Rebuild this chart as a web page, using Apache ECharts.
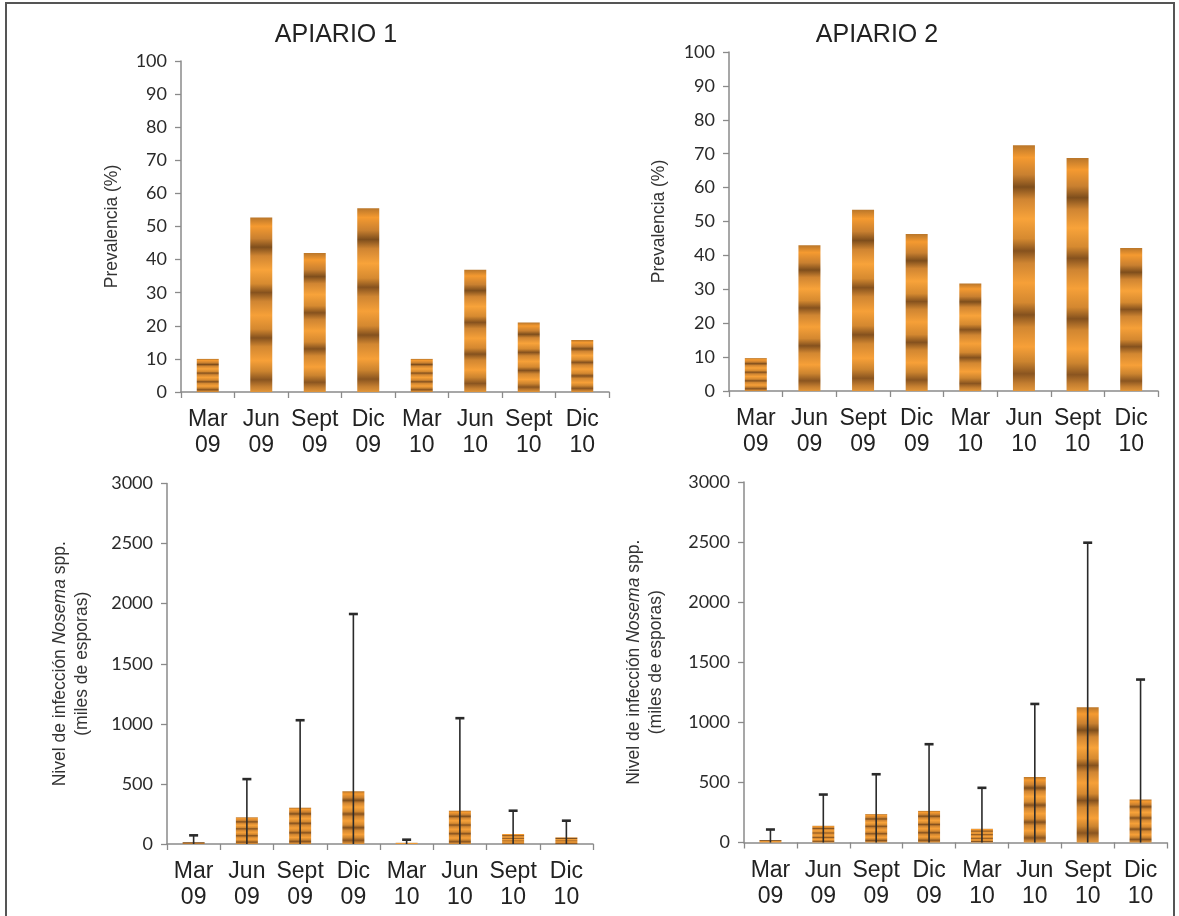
<!DOCTYPE html>
<html>
<head>
<meta charset="utf-8">
<script src="https://cdn.jsdelivr.net/npm/echarts@6/dist/echarts.min.js"></script>
<style>
html,body{margin:0;padding:0;background:#fff;}
#c{width:1179px;height:916px;}
</style>
</head>
<body>
<div id="c"></div>
<script>
// ---- data ----
const categories = ['Mar\n09','Jun\n09','Sept\n09','Dic\n09','Mar\n10','Jun\n10','Sept\n10','Dic\n10'];
const titles = ['APIARIO 1', 'APIARIO 2'];
const prevalencia1 = [10, 52.7, 42.0, 55.5, 10, 36.9, 21.0, 15.7];
const prevalencia2 = [9.7, 43.0, 53.5, 46.3, 31.7, 72.5, 68.7, 42.2];
const nivel1 = [15, 222, 302, 438, 10, 277, 83, 55];
const nivel1Upper = [72, 540, 1030, 1914, 36, 1047, 277, 194];
const nivel2 = [20, 139, 236, 263, 114, 546, 1126, 358];
const nivel2Upper = [108, 399, 568, 818, 455, 1153, 2495, 1356];

// ---- styles ----
const barFill = {
  type: 'linear', x: 0, y: 0, x2: 0, y2: 1,
  colorStops: [
    {offset: 0.00, color: '#B9762A'},
    {offset: 0.05, color: '#F59A30'},
    {offset: 0.12, color: '#C98030'},
    {offset: 0.17, color: '#7E4E1C'},
    {offset: 0.22, color: '#D08532'},
    {offset: 0.30, color: '#F8A33A'},
    {offset: 0.38, color: '#D68A30'},
    {offset: 0.43, color: '#86521E'},
    {offset: 0.48, color: '#CF8532'},
    {offset: 0.56, color: '#F6A038'},
    {offset: 0.64, color: '#D48830'},
    {offset: 0.69, color: '#84511E'},
    {offset: 0.74, color: '#D28731'},
    {offset: 0.82, color: '#F7A038'},
    {offset: 0.88, color: '#CC842F'},
    {offset: 0.93, color: '#8A5520'},
    {offset: 0.97, color: '#C47E30'},
    {offset: 1.00, color: '#E2963A'}
  ]
};
const axisColor = '#8a8a8a';
const sansX = 'Liberation Sans, Arial, sans-serif';
const sansY = 'Lato, Open Sans, sans-serif';

function xAx(gi) {
  return {
    type: 'category', gridIndex: gi, data: categories,
    axisLine: {lineStyle: {color: axisColor, width: 1.5}},
    axisTick: {show: true, length: 6, lineStyle: {color: axisColor, width: 1.3}},
    axisLabel: {color: '#222', fontFamily: sansX, fontSize: 23, lineHeight: 26, margin: 15, interval: 0}
  };
}
function yAx(gi, max, interval, name, gap) {
  return {
    type: 'value', gridIndex: gi, min: 0, max: max, interval: interval,
    name: name, nameLocation: 'middle', nameGap: gap,
    nameTextStyle: {
      color: '#333', fontFamily: sansX, fontSize: 17.5, lineHeight: 22, align: 'center',
      rich: {
        n: {color: '#333', fontFamily: sansX, fontSize: 17.5, lineHeight: 22},
        i: {color: '#333', fontFamily: sansX, fontSize: 17.5, lineHeight: 22, fontStyle: 'italic'}
      }
    },
    axisLine: {show: true, lineStyle: {color: axisColor, width: 1.5}},
    axisTick: {show: true, length: 6, lineStyle: {color: axisColor, width: 1.3}},
    splitLine: {show: false},
    axisLabel: {color: '#2a2a2a', fontFamily: sansY, fontSize: 18, margin: 14,
                formatter: function (v) { return String(v); }}
  };
}
function bars(idx, data) {
  return {
    type: 'bar', xAxisIndex: idx, yAxisIndex: idx, data: data,
    barWidth: 22, itemStyle: {color: barFill}, z: 2
  };
}
function errs(idx, upper) {
  return {
    type: 'custom', xAxisIndex: idx, yAxisIndex: idx, z: 5,
    data: upper.map((v, i) => [i, v]),
    encode: {x: 0, y: 1},
    renderItem: function (params, api) {
      const top = api.coord([api.value(0), api.value(1)]);
      const base = api.coord([api.value(0), 0]);
      const half = 4.5;
      return {
        type: 'group',
        children: [
          {type: 'line', shape: {x1: top[0], y1: base[1], x2: top[0], y2: top[1]},
           style: {stroke: '#2a2a2a', lineWidth: 1.6}},
          {type: 'line', shape: {x1: top[0] - half, y1: top[1], x2: top[0] + half, y2: top[1]},
           style: {stroke: '#2a2a2a', lineWidth: 2.6}}
        ]
      };
    }
  };
}

const nivelName = '{n|Nivel de infección }{i|Nosema}{n| spp.}\n{n|(miles de esporas)}';

const chart = echarts.init(document.getElementById('c'), null, {renderer: 'canvas'});
chart.setOption({
  backgroundColor: '#fff',
  animation: false,
  title: [
    {text: titles[0], left: 331, top: 18, textAlign: 'center',
     textStyle: {fontFamily: sansX, fontSize: 25, fontWeight: 'normal', color: '#222'}},
    {text: titles[1], left: 872, top: 18, textAlign: 'center',
     textStyle: {fontFamily: sansX, fontSize: 25, fontWeight: 'normal', color: '#222'}}
  ],
  graphic: [{
    type: 'rect', silent: true, z: -10,
    shape: {x: 6, y: 3, width: 1168, height: 940},
    style: {fill: null, stroke: '#555', lineWidth: 2}
  }],
  grid: [
    {left: 181, top: 61, width: 428, height: 331},
    {left: 729, top: 52, width: 429, height: 339},
    {left: 167, top: 483.5, width: 426, height: 360.5},
    {left: 744, top: 482, width: 423, height: 360.5}
  ],
  xAxis: [xAx(0), xAx(1), xAx(2), xAx(3)],
  yAxis: [
    yAx(0, 100, 10, 'Prevalencia (%)', 58),
    yAx(1, 100, 10, 'Prevalencia (%)', 59),
    yAx(2, 3000, 500, nivelName, 74),
    yAx(3, 3000, 500, nivelName, 77)
  ],
  series: [
    bars(0, prevalencia1),
    bars(1, prevalencia2),
    bars(2, nivel1),
    bars(3, nivel2),
    errs(2, nivel1Upper),
    errs(3, nivel2Upper)
  ]
});
</script>
</body>
</html>
